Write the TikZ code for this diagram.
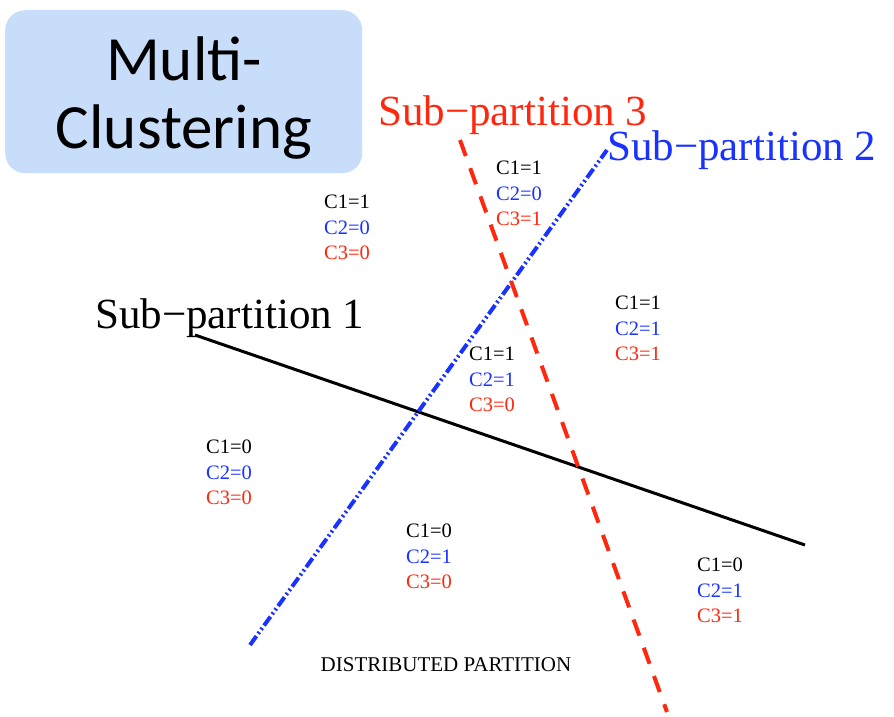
\documentclass[tikz,border=0pt]{standalone}
\usepackage{fontspec}
\setmainfont{Liberation Serif}
\newfontfamily\titlefont{Carlito}
\definecolor{pblue}{RGB}{25,50,255}
\definecolor{pred}{RGB}{255,40,15}
\definecolor{boxblue}{RGB}{200,221,250}
\begin{document}
\begin{tikzpicture}[x=1pt,y=-1pt,
  big/.style={font=\fontsize{43}{50}\selectfont, inner sep=0pt, anchor=base west},
  cell/.style={font=\fontsize{20.5}{25.5}\selectfont, inner sep=0pt, align=center, anchor=north}]
\useasboundingbox (0,0) rectangle (894,716);
% title
\node[fill=boxblue, rounded corners=20pt, minimum width=357pt, minimum height=163pt, anchor=north west, inner sep=0pt] (title) at (5,10) {};
\node[font=\titlefont\fontsize{63}{68}\selectfont, inner sep=0pt, anchor=base] (t1) at (184,80) {Multi-};
\node[font=\titlefont\fontsize{63}{68}\selectfont, inner sep=0pt, anchor=base] (t2) at (184,148) {Clustering};
% partition lines
\coordinate (a1) at (195,335);
\coordinate (a2) at (805,545);
\coordinate (b1) at (250,645);
\coordinate (b2) at (607,150);
\coordinate (c1) at (460,140);
\coordinate (c2) at (667,712);
\draw[line width=3pt, black] (a1) -- (a2);
\draw[line width=4pt, pblue, dash pattern=on 11pt off 3pt on 2pt off 3pt on 2pt off 3pt] (b1) -- (b2);
\draw[line width=4pt, pred, dash pattern=on 17pt off 13pt] (c1) -- (c2);
% labels
\node[big] (s1) at (95,328) {Sub\textminus partition 1};
\node[big, pred] (s3) at (378,125) {Sub\textminus partition 3};
\node[big, pblue] (s2) at (607,160) {Sub\textminus partition 2};
% cells
\node[cell] (r1) at (347,195) {C1=1\\\textcolor{pblue}{C2=0}\\\textcolor{pred}{C3=0}};
\node[cell] (r2) at (519,161) {C1=1\\\textcolor{pblue}{C2=0}\\\textcolor{pred}{C3=1}};
\node[cell] (r3) at (638,296) {C1=1\\\textcolor{pblue}{C2=1}\\\textcolor{pred}{C3=1}};
\node[cell] (r4) at (492,347) {C1=1\\\textcolor{pblue}{C2=1}\\\textcolor{pred}{C3=0}};
\node[cell] (r5) at (229,440) {C1=0\\\textcolor{pblue}{C2=0}\\\textcolor{pred}{C3=0}};
\node[cell] (r6) at (429,524) {C1=0\\\textcolor{pblue}{C2=1}\\\textcolor{pred}{C3=0}};
\node[cell] (r7) at (720,558) {C1=0\\\textcolor{pblue}{C2=1}\\\textcolor{pred}{C3=1}};
\node[font=\fontsize{21}{24}\selectfont, inner sep=0pt] (dp) at (446,665) {DISTRIBUTED PARTITION};
\end{tikzpicture}
\end{document}
